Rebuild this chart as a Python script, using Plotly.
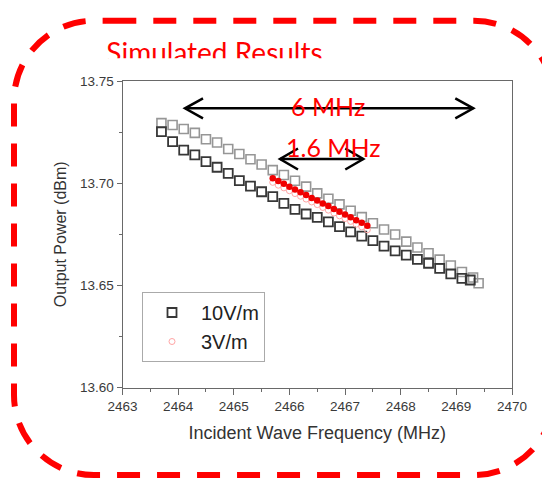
import plotly.graph_objects as go

W, H = 550, 487
OX, OY = 8, 8  # page body margin offset in the browser

# ---------------- data ----------------
freq_gray = [2463.7, 2463.9, 2464.1, 2464.3, 2464.5, 2464.7, 2464.9, 2465.1, 2465.3, 2465.5,
             2465.7, 2465.9, 2466.1, 2466.3, 2466.5, 2466.7, 2466.9, 2467.1, 2467.3, 2467.5,
             2467.7, 2467.9, 2468.1, 2468.3, 2468.5, 2468.7, 2468.9, 2469.1, 2469.3, 2469.4]
power_gray = [13.7294, 13.7285, 13.7265, 13.7246, 13.7215, 13.7199, 13.7167, 13.7143, 13.7117, 13.7091,
              13.7064, 13.7040, 13.7012, 13.6983, 13.6950, 13.6924, 13.6896, 13.6865, 13.6834, 13.6804,
              13.6773, 13.6749, 13.6714, 13.6685, 13.6657, 13.6626, 13.6597, 13.6565, 13.6538, 13.6510]

freq_10v = [2463.7, 2463.9, 2464.1, 2464.3, 2464.5, 2464.7, 2464.9, 2465.1, 2465.3, 2465.5,
            2465.7, 2465.9, 2466.1, 2466.3, 2466.5, 2466.7, 2466.9, 2467.1, 2467.3, 2467.5,
            2467.7, 2467.9, 2468.1, 2468.3, 2468.5, 2468.7, 2468.9, 2469.1, 2469.25]
power_10v = [13.7252, 13.7203, 13.7162, 13.7138, 13.7105, 13.7078, 13.7048, 13.7012, 13.6986, 13.6958,
             13.6934, 13.6901, 13.6872, 13.6849, 13.6833, 13.6811, 13.6787, 13.6762, 13.6741, 13.6719,
             13.6692, 13.6669, 13.6648, 13.6627, 13.6608, 13.6583, 13.6556, 13.6534, 13.6526]

freq_3v = [2465.7, 2465.8, 2465.9, 2466.0, 2466.1, 2466.2, 2466.3, 2466.4, 2466.5,
           2466.6, 2466.7, 2466.8, 2466.9, 2467.0, 2467.1, 2467.2, 2467.3, 2467.4]
power_3v_open = [13.7004, 13.6990, 13.6977, 13.6963, 13.6949, 13.6936, 13.6922, 13.6908, 13.6895,
                 13.6881, 13.6868, 13.6854, 13.6840, 13.6827, 13.6813, 13.6799, 13.6786, 13.6772]
power_3v_fill = [13.7024, 13.7010, 13.6997, 13.6983, 13.6969, 13.6956, 13.6942, 13.6928, 13.6915,
                 13.6901, 13.6888, 13.6874, 13.6860, 13.6847, 13.6833, 13.6819, 13.6806, 13.6792]

x_ticks = [2463, 2464, 2465, 2466, 2467, 2468, 2469, 2470]
y_ticks = [13.60, 13.65, 13.70, 13.75]

title_text = "Simulated Results"
span_wide_label = "6 MHz"
span_narrow_label = "1.6 MHz"
x_title = "Incident Wave Frequency (MHz)"
y_title = "Output Power (dBm)"

# ---------------- helpers (screen pixel -> paper) ----------------
def X(px):
    return (px - OX) / W

def Y(py):
    return 1 - (py - OY) / H

fig = go.Figure()

fig.add_trace(go.Scatter(x=freq_gray, y=power_gray, mode="markers", showlegend=False,
                         marker=dict(symbol="square-open", size=9, color="rgb(150,150,150)",
                                     line=dict(width=1.6, color="rgb(150,150,150)"))))
fig.add_trace(go.Scatter(x=freq_10v, y=power_10v, mode="markers", name="10V/m",
                         marker=dict(symbol="square-open", size=9, color="rgb(55,55,55)",
                                     line=dict(width=1.8, color="rgb(55,55,55)"))))
fig.add_trace(go.Scatter(x=freq_3v, y=power_3v_open, mode="markers", name="3V/m",
                         marker=dict(symbol="circle-open", size=6, color="rgb(255,165,165)",
                                     line=dict(width=1, color="rgb(255,165,165)"))))
fig.add_trace(go.Scatter(x=freq_3v, y=power_3v_fill, mode="markers", showlegend=False,
                         marker=dict(symbol="circle", size=6.5, color="rgb(240,0,0)")))

# title text on an overlay axis whose bottom edge clips it (like the pasted picture covering it)
CLIP_Y = 58.3
fig.add_trace(go.Scatter(x=[214.5], y=[-56.0], mode="text", text=[title_text],
                         textposition="middle center", showlegend=False, hoverinfo="skip",
                         cliponaxis=True, xaxis="x2", yaxis="y2",
                         textfont=dict(family="Lato, Open Sans, sans-serif", size=28, color="#ff0000")))

# ---------------- shapes ----------------
R = 80
k = 0.5523 * R
L, Rt, T, B = 14, 554, 20.7, 475
border = (f"M {X(113.3)},{Y(T)} L {X(Rt-R)},{Y(T)} "
          f"C {X(Rt-R+k)},{Y(T)} {X(Rt)},{Y(T+R-k)} {X(Rt)},{Y(T+R)} "
          f"L {X(Rt)},{Y(B-R)} "
          f"C {X(Rt)},{Y(B-R+k)} {X(Rt-R+k)},{Y(B)} {X(Rt-R)},{Y(B)} "
          f"L {X(L+R)},{Y(B)} "
          f"C {X(L+R-k)},{Y(B)} {X(L)},{Y(B-R+k)} {X(L)},{Y(B-R)} "
          f"L {X(L)},{Y(T+R)} "
          f"C {X(L)},{Y(T+R-k)} {X(L+R-k)},{Y(T)} {X(L+R)},{Y(T)} Z")

shapes = [dict(type="path", path=border, xref="paper", yref="paper",
               line=dict(color="#ff0000", width=6, dash="23px,17px"), layer="above")]

def dbl_arrow(x0, x1, yy, hl=18, hh=10):
    return [
        dict(type="line", x0=X(x0), x1=X(x1), y0=Y(yy), y1=Y(yy), xref="paper", yref="paper",
             line=dict(color="black", width=2.5), layer="above"),
        dict(type="path", xref="paper", yref="paper", layer="above",
             path=f"M {X(x0+hl)},{Y(yy-hh)} L {X(x0)},{Y(yy)} L {X(x0+hl)},{Y(yy+hh)}",
             line=dict(color="black", width=2.5)),
        dict(type="path", xref="paper", yref="paper", layer="above",
             path=f"M {X(x1-hl)},{Y(yy-hh)} L {X(x1)},{Y(yy)} L {X(x1-hl)},{Y(yy+hh)}",
             line=dict(color="black", width=2.5)),
    ]

shapes += dbl_arrow(185, 473.3, 108.3)
shapes += dbl_arrow(280, 363.3, 159, hl=18, hh=10.5)

annotations = [
    dict(text=span_wide_label, x=X(328.3), y=Y(106.0), xref="paper", yref="paper", showarrow=False,
         xanchor="center", yanchor="middle",
         font=dict(family="Lato, Open Sans, sans-serif", size=25, color="#ff0000")),
    dict(text=span_narrow_label, x=X(333.3), y=Y(147.0), xref="paper", yref="paper", showarrow=False,
         xanchor="center", yanchor="middle",
         font=dict(family="Lato, Open Sans, sans-serif", size=25, color="#ff0000")),
]

axis_line = "rgb(105,105,105)"
tick_font = dict(family="Liberation Sans, Arial, sans-serif", size=13.5, color="#3a3a3a")

fig.update_layout(
    width=W, height=H,
    margin=dict(l=0, r=0, t=0, b=0, autoexpand=False),
    paper_bgcolor="white", plot_bgcolor="white",
    shapes=shapes, annotations=annotations,
    xaxis=dict(domain=[X(122.5), X(512)], range=[2463, 2470], tickvals=x_ticks,
               ticktext=[str(v) for v in x_ticks], ticks="outside", ticklen=6, tickwidth=1,
               tickcolor=axis_line, showline=True, linecolor=axis_line, linewidth=1, mirror=True,
               showgrid=False, zeroline=False, tickfont=tick_font, automargin=False,
               minor=dict(ticks="outside", ticklen=3, dtick=0.5, tickcolor=axis_line, showgrid=False),
               title=dict(text=x_title, standoff=13,
                          font=dict(family="Liberation Sans, Arial, sans-serif", size=18, color="#333"))),
    yaxis=dict(domain=[Y(387.5), Y(81)], range=[13.60, 13.75], tickvals=y_ticks,
               ticktext=[f"{v:.2f}" for v in y_ticks], ticks="outside", ticklen=5, tickwidth=1,
               tickcolor=axis_line, showline=True, linecolor=axis_line, linewidth=1, mirror=True,
               showgrid=False, zeroline=False, tickfont=tick_font, automargin=False,
               minor=dict(ticks="outside", ticklen=3, dtick=0.025, tickcolor=axis_line, showgrid=False),
               title=dict(text=y_title, standoff=9,
                          font=dict(family="Liberation Sans, Arial, sans-serif", size=16, color="#333"))),
    xaxis2=dict(domain=[0, 1], range=[OX, OX + W], visible=False, anchor="y2", fixedrange=True,
                automargin=False),
    yaxis2=dict(domain=[Y(CLIP_Y), 1], range=[-CLIP_Y, -OY], visible=False, anchor="x2",
                fixedrange=True, automargin=False),
    legend=dict(x=X(142), y=Y(292), xanchor="left", yanchor="top",
                bordercolor="rgb(170,170,170)", borderwidth=1, bgcolor="white",
                itemwidth=48, tracegroupgap=0,
                font=dict(family="Liberation Sans, Arial, sans-serif", size=20, color="#222")),
    showlegend=True,
)

fig.write_html("out.html")
